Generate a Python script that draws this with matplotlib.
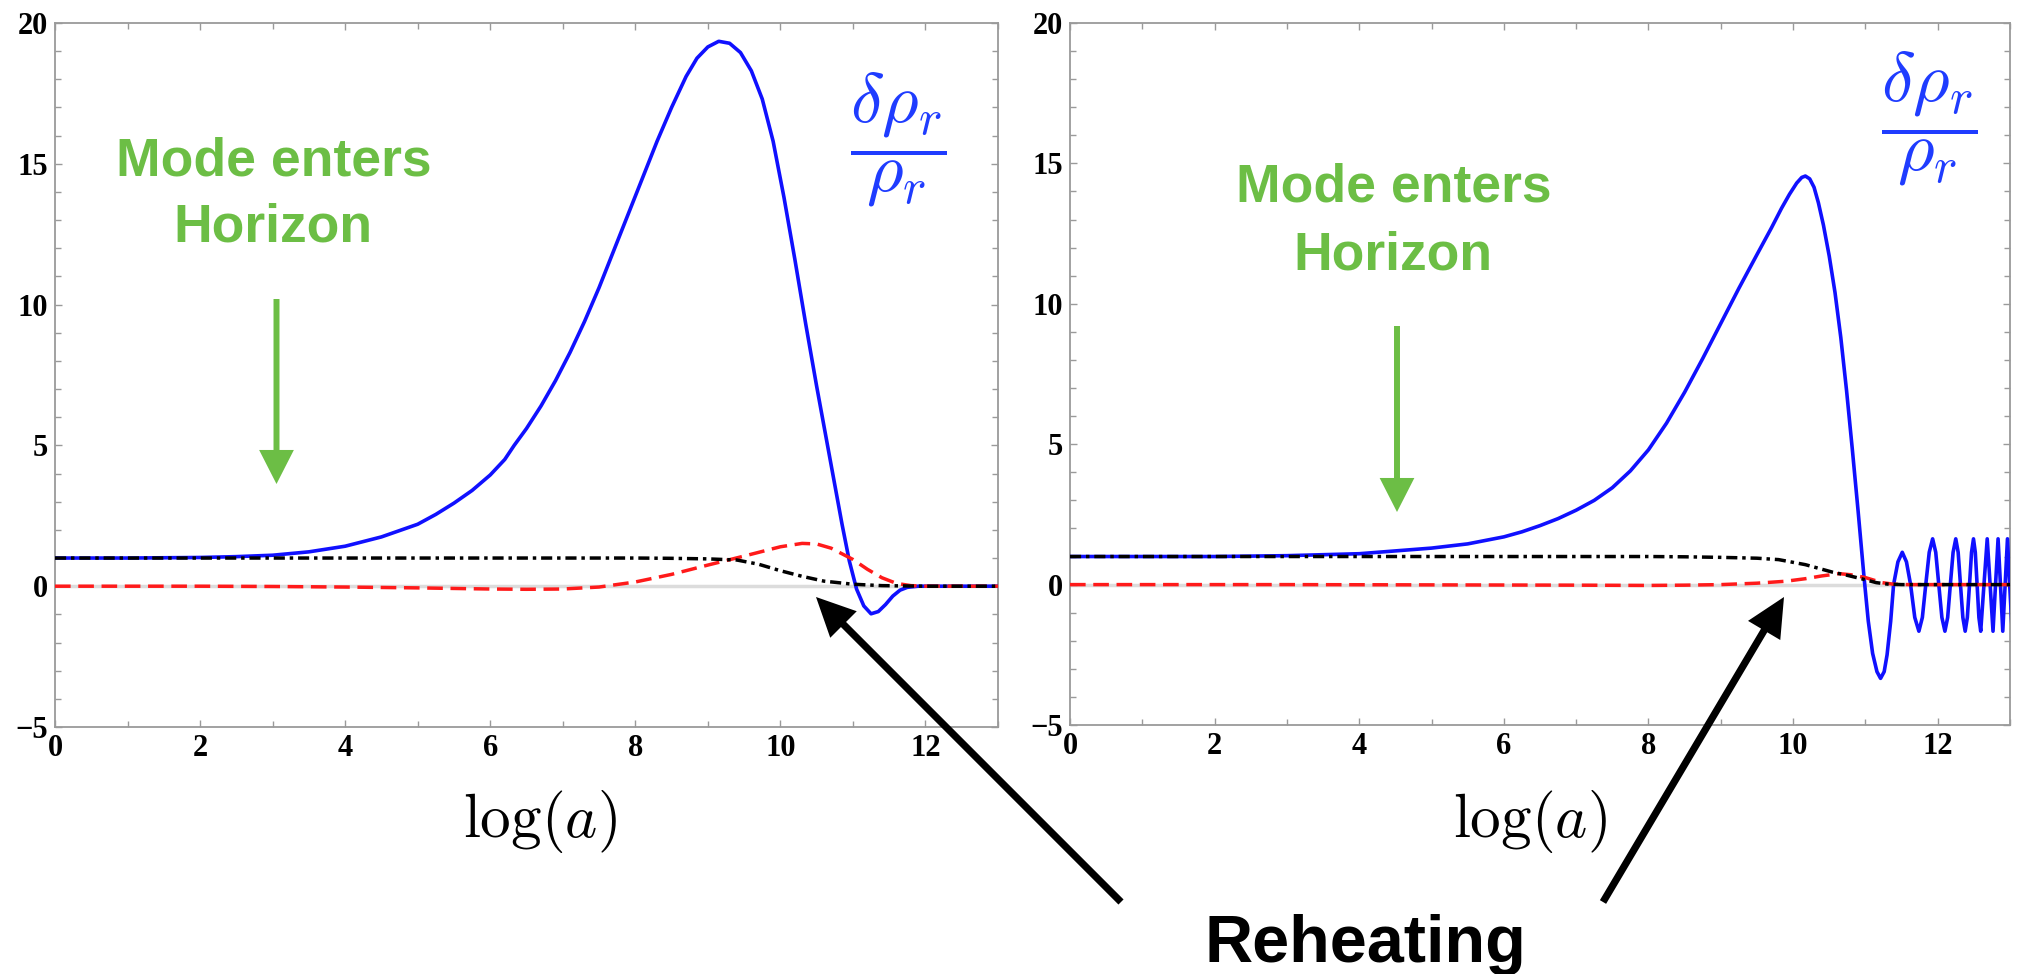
import matplotlib
matplotlib.use("Agg")
import matplotlib.pyplot as plt
from matplotlib.patches import FancyArrowPatch, ArrowStyle
from matplotlib.ticker import MultipleLocator

W, H = 2019, 974
plt.rcParams['mathtext.fontset'] = 'cm'

# ---------------- data ----------------
left_blue_x = [0, 1, 2, 2.5, 3, 3.5, 4, 4.5, 5, 5.25, 5.5, 5.75, 6.0, 6.2, 6.33, 6.5,
               6.7, 6.9, 7.1, 7.3, 7.5, 7.7, 7.9, 8.1, 8.3, 8.5, 8.7, 8.85,
               9.0, 9.15, 9.3, 9.45, 9.6, 9.75, 9.9, 10.05, 10.2, 10.35, 10.5, 10.65,
               10.75, 10.85, 10.95, 11.05, 11.15, 11.25, 11.35, 11.45, 11.55, 11.65,
               11.75, 11.9, 12.5, 13]
left_blue_y = [1.0, 1.0, 1.02, 1.05, 1.1, 1.22, 1.42, 1.75, 2.2, 2.55, 2.95, 3.4, 3.95,
               4.5, 5.0, 5.6, 6.4, 7.3, 8.3, 9.4, 10.6, 11.9, 13.2, 14.5, 15.8,
               17.0, 18.1, 18.75, 19.15, 19.35, 19.28, 18.95, 18.3, 17.3, 15.8, 13.8,
               11.6, 9.3, 7.1, 5.0, 3.6, 2.2, 0.9, -0.1, -0.7, -0.98, -0.9, -0.65, -0.35,
               -0.14, -0.04, 0.0, 0.0, 0.0]

left_red_x = [0, 1, 2, 3, 4, 5, 5.5, 6, 6.5, 7, 7.5, 8, 8.5, 9, 9.5, 10, 10.3, 10.5,
              10.7, 11, 11.2, 11.4, 11.6, 11.8, 12, 13]
left_red_y = [0, 0, 0, -0.01, -0.03, -0.06, -0.08, -0.1, -0.11, -0.1, -0.03, 0.15,
              0.42, 0.75, 1.07, 1.4, 1.52, 1.5, 1.35, 0.95, 0.6, 0.3, 0.1, 0.02, 0, 0]

left_black_x = [0, 8, 8.5, 9, 9.4, 9.7, 10, 10.3, 10.6, 11, 11.4, 12, 13]
left_black_y = [1.0, 1.0, 0.99, 0.97, 0.93, 0.78, 0.55, 0.35, 0.18, 0.07, 0.02, 0, 0]

right_blue_x = [0, 2, 3, 4, 5, 5.5, 6.0, 6.25, 6.5, 6.75, 7.0, 7.25, 7.5, 7.75, 8.0,
                8.25, 8.5, 8.75, 9.0, 9.25, 9.5, 9.7, 9.84, 9.95, 10.05, 10.12, 10.17,
                10.23, 10.29, 10.35, 10.42, 10.5, 10.58, 10.66, 10.74, 10.82, 10.9,
                10.98, 11.04, 11.10, 11.16, 11.21, 11.26, 11.30, 11.35, 11.39, 11.45,
                11.51, 11.568, 11.625, 11.683, 11.74, 11.788, 11.835, 11.883, 11.93,
                11.973, 12.015, 12.058, 12.10, 12.138, 12.175, 12.213, 12.25, 12.283,
                12.315, 12.348, 12.38, 12.41, 12.44, 12.468, 12.495, 12.52, 12.545,
                12.57, 12.595, 12.64, 12.685, 12.725, 12.765, 12.80, 12.835, 12.868,
                12.90, 12.933, 12.965, 12.995, 13.03]
right_blue_y = [1.0, 1.0, 1.03, 1.1, 1.3, 1.45, 1.7, 1.88, 2.1, 2.35, 2.65, 3.0, 3.45,
                4.05, 4.8, 5.75, 6.85, 8.05, 9.3, 10.55, 11.75, 12.7, 13.4, 13.9, 14.3,
                14.5, 14.55, 14.45, 14.15, 13.6, 12.8, 11.7, 10.4, 8.8, 6.9, 4.8, 2.6,
                0.3, -1.3, -2.45, -3.1, -3.34, -3.1, -2.5, -1.3, 0.0, 0.81, 1.15, 0.81,
                0.0, -1.17, -1.66, -1.17, 0.0, 1.15, 1.63, 1.15, 0.0, -1.17, -1.66,
                -1.17, 0.0, 1.15, 1.63, 1.15, 0.0, -1.17, -1.66, -1.17, 0.0, 1.15, 1.63,
                1.15, 0.0, -1.17, -1.66, 0.0, 1.63, 0.0, -1.66, 0.0, 1.63, 0.0, -1.66,
                0.0, 1.63, 0.0, -1.66]

right_red_x = [0, 3, 7, 8, 8.5, 9, 9.5, 9.9, 10.17, 10.4, 10.64, 10.8, 11.0, 11.23,
               11.4, 11.6, 13]
right_red_y = [0, 0, -0.02, -0.03, -0.02, 0.0, 0.05, 0.12, 0.21, 0.31, 0.39, 0.35,
               0.25, 0.07, 0.01, 0, 0]

right_black_x = [0, 8, 8.5, 9, 9.5, 9.8, 10.17, 10.55, 10.75, 10.96, 11.15, 11.3, 11.5, 13]
right_black_y = [1.0, 1.0, 0.99, 0.97, 0.94, 0.89, 0.71, 0.44, 0.33, 0.2, 0.07, 0.02, 0, 0]

x_limits = (0, 13)
y_limits = (-5, 20)

BLUE = '#1010ff'
RED = '#ff1a1a'
GREEN = '#6cbe45'
LABEL_BLUE = '#1f3cff'

fig = plt.figure(figsize=(W / 100, H / 100), dpi=100)


def fx(x):
    return x / W


def fy(y):
    return 1 - y / H


ax1 = fig.add_axes([fx(55), fy(727), 943 / W, 704 / H])
ax2 = fig.add_axes([fx(1070), fy(725), 940 / W, 702 / H])


def style(ax):
    ax.set_xlim(*x_limits)
    ax.set_ylim(*y_limits)
    ax.xaxis.set_major_locator(MultipleLocator(2))
    ax.xaxis.set_minor_locator(MultipleLocator(1))
    ax.yaxis.set_major_locator(MultipleLocator(5))
    ax.yaxis.set_minor_locator(MultipleLocator(1))
    ax.tick_params(which='both', direction='in', top=True, right=True,
                   color='#9a9a9a', width=1.0)
    ax.tick_params(which='major', length=5)
    ax.tick_params(which='minor', length=4.5)
    ax.tick_params(axis='x', pad=5)
    ax.tick_params(axis='y', pad=5)
    for s in ax.spines.values():
        s.set_color('#9a9a9a')
        s.set_linewidth(1.3)
    for lab in ax.get_xticklabels() + ax.get_yticklabels():
        lab.set_fontfamily('Liberation Serif')
        lab.set_fontweight('bold')
        lab.set_fontsize(22)
    ax.axhline(0, color='#dcdcdc', lw=2.5, zorder=1)


def draw(ax, bx, by, rx, ry, kx, ky):
    ax.plot(bx, by, color=BLUE, lw=2.6, zorder=3, solid_joinstyle='round')
    ax.plot(rx, ry, color=RED, lw=2.5, ls=(0, (4.5, 2.2)), zorder=4)
    ax.plot(kx, ky, color='black', lw=2.5, ls=(0, (3.2, 1.4, 1.0, 1.4)), zorder=5)


draw(ax1, left_blue_x, left_blue_y, left_red_x, left_red_y, left_black_x, left_black_y)
draw(ax2, right_blue_x, right_blue_y, right_red_x, right_red_y, right_black_x, right_black_y)
style(ax1)
style(ax2)

# ---------------- annotations ----------------
frac = r'$\dfrac{\delta\rho_r}{\rho_r}$'
fig.text(fx(898), fy(140), frac, color=LABEL_BLUE, fontsize=51, ha='center', va='center')
fig.text(fx(1929), fy(119), frac, color=LABEL_BLUE, fontsize=51, ha='center', va='center')

for cx, cy in [(540, 837), (1530, 837)]:
    fig.text(fx(cx), fy(cy), r'$\log(a)$', fontsize=44, ha='center', va='baseline')

gkw = dict(color=GREEN, fontsize=38.5, fontweight='bold', family='Liberation Sans',
           ha='center', va='baseline')
fig.text(fx(274), fy(175), 'Mode enters', **gkw)
fig.text(fx(273), fy(242), 'Horizon', **gkw)
fig.text(fx(1394), fy(202), 'Mode enters', **gkw)
fig.text(fx(1393), fy(269), 'Horizon', **gkw)

fig.text(fx(1365), fy(962), 'Reheating', fontsize=48, fontweight='bold',
         family='Liberation Sans', ha='center', va='baseline')


def arrow(p0, p1, color, tail, hl, hw):
    a = FancyArrowPatch((fx(p0[0]), fy(p0[1])), (fx(p1[0]), fy(p1[1])),
                        transform=fig.transFigure,
                        arrowstyle=ArrowStyle.Simple(head_length=hl, head_width=hw,
                                                     tail_width=tail),
                        mutation_scale=1, color=color, lw=0, shrinkA=0, shrinkB=0)
    fig.add_artist(a)


arrow((276.5, 299), (276.5, 484), GREEN, 4.3, 24.5, 25)
arrow((1397, 326), (1397, 512), GREEN, 4.3, 24.5, 25)
arrow((1121, 902), (816, 597), 'black', 5.2, 28, 27)
arrow((1603, 902), (1784, 597), 'black', 5.2, 28, 27)

fig.savefig('out.png', dpi=100)
